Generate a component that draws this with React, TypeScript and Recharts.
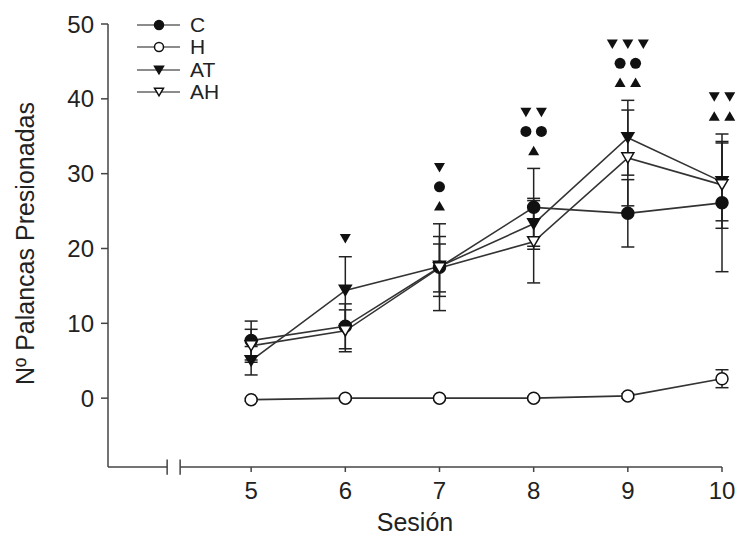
import React from 'react';
import {
  ComposedChart,
  Line,
  Scatter,
  XAxis,
  YAxis,
  ErrorBar,
  ReferenceLine,
  Legend,
  Label,
} from 'recharts';

const sessions = [5, 6, 7, 8, 9, 10];

const cMean = [7.7, 9.6, 17.5, 25.5, 24.7, 26.1];
const cErr = [2.6, 3.0, 5.8, 5.2, 4.5, 9.2];
const hMean = [-0.2, 0.0, 0.0, 0.0, 0.3, 2.6];
const hErr = [0.2, 0.2, 0.2, 0.2, 0.3, 1.2];
const atMean = [5.0, 14.4, 17.6, 23.3, 34.8, 28.9];
const atErr = [1.9, 4.5, 4.0, 3.4, 5.0, 5.2];
const ahMean = [7.0, 9.0, 17.4, 20.9, 32.1, 28.5];
const ahErr = [2.2, 2.8, 3.2, 5.5, 6.4, 5.8];

// significance symbols drawn above each session (how many of each)
const sigDown = [0, 1, 1, 2, 3, 2];
const sigCircle = [0, 0, 1, 2, 2, 0];
const sigUp = [0, 0, 1, 1, 2, 2];

const xTicks = [5, 6, 7, 8, 9, 10];
const yTicks = [0, 10, 20, 30, 40, 50];
const xMin = 3.48;
const yMin = -9.2;
const breakAt = [4.108, 4.246];

const FONT = '"Liberation Sans", Arial, sans-serif';
const INK = '#111';
const LINE = '#333';

const series = [
  { key: 'C', shape: 'circle', fill: INK },
  { key: 'H', shape: 'circle', fill: '#fff' },
  { key: 'AT', shape: 'tri', fill: INK },
  { key: 'AH', shape: 'tri', fill: '#fff' },
];

const data = sessions.map((s, i) => ({
  session: s,
  C: cMean[i],
  C_err: cErr[i],
  H: hMean[i],
  H_err: hErr[i],
  AT: atMean[i],
  AT_err: atErr[i],
  AH: ahMean[i],
  AH_err: ahErr[i],
}));

const sigData = sessions.map((s, i) => ({
  session: s,
  top: Math.max(cMean[i] + cErr[i], atMean[i] + atErr[i], ahMean[i] + ahErr[i], hMean[i] + hErr[i]),
  down: sigDown[i],
  circle: sigCircle[i],
  up: sigUp[i],
}));

const marker = (shape: string, fill: string, cx: number, cy: number, size: number, key?: any) => {
  if (shape === 'circle') {
    return <circle key={key} cx={cx} cy={cy} r={size / 2} fill={fill} stroke={INK} strokeWidth={1.5} />;
  }
  const w = size;
  const h = size * 0.85;
  const pts = `${cx - w / 2},${cy - h / 2} ${cx + w / 2},${cy - h / 2} ${cx},${cy + h / 2}`;
  return <polygon key={key} points={pts} fill={fill} stroke={INK} strokeWidth={1.5} strokeLinejoin="miter" />;
};

const dotFor = (shape: string, fill: string) => (props: any) => {
  const { cx, cy, key } = props;
  if (cx == null || cy == null) return <g key={key} />;
  return marker(shape, fill, cx, cy, 12, key);
};

const SigMarks = (props: any) => {
  const { cx, cy, payload } = props;
  const rows: [string, number][] = [
    ['up', payload.up],
    ['circle', payload.circle],
    ['down', payload.down],
  ];
  const used = rows.filter((r) => r[1] > 0);
  return (
    <g>
      {used.map(([kind, n], r) => {
        const y = cy - 18 - r * 19;
        return Array.from({ length: n }, (_, j) => {
          const x = cx + (j - (n - 1) / 2) * 15.5;
          const k = `${kind}-${j}`;
          if (kind === 'circle') return <circle key={k} cx={x} cy={y} r={5.5} fill={INK} />;
          const w = 11;
          const h = 9.5;
          const pts =
            kind === 'down'
              ? `${x - w / 2},${y - h / 2} ${x + w / 2},${y - h / 2} ${x},${y + h / 2}`
              : `${x - w / 2},${y + h / 2} ${x + w / 2},${y + h / 2} ${x},${y - h / 2}`;
          return <polygon key={k} points={pts} fill={INK} />;
        });
      })}
    </g>
  );
};

const LegendBox = () => (
  <div style={{ fontFamily: FONT, fontSize: 21, color: '#222' }}>
    {series.map((s) => (
      <div key={s.key} style={{ display: 'flex', alignItems: 'center', height: 22.3 }}>
        <svg width={53} height={22} style={{ display: 'block' }}>
          <line x1={0} x2={43} y1={11} y2={11} stroke="#666" strokeWidth={1.3} />
          {marker(s.shape, s.fill, 22, 11, 9)}
        </svg>
        <span style={{ lineHeight: '22px' }}>{s.key}</span>
      </div>
    ))}
  </div>
);

const YTitle = (props: any) => {
  const vb = props.viewBox || { x: 0, y: 0, width: 0, height: 0 };
  const x = vb.x + 25;
  const y = vb.y + vb.height / 2 - 2;
  return (
    <text
      x={x}
      y={y}
      transform={`rotate(-90, ${x}, ${y})`}
      textAnchor="middle"
      dominantBaseline="central"
      fontFamily={FONT}
      fontSize={25}
      fill="#222"
    >
      Nº Palancas Presionadas
    </text>
  );
};

export default function App() {
  return (
    <div style={{ position: 'absolute', left: 0, top: 0, background: '#fff' }}>
      <ComposedChart
        width={740}
        height={537}
        data={data}
        margin={{ top: 24, right: 18, bottom: 0, left: 0 }}
      >
        <XAxis
          dataKey="session"
          type="number"
          domain={[xMin, 10]}
          ticks={xTicks}
          axisLine={false}
          tickLine={{ stroke: '#444', strokeWidth: 1.5 }}
          tickSize={5}
          tickMargin={10}
          height={70}
          tick={{ fontSize: 24, fill: '#222', fontFamily: FONT }}
        >
          <Label
            value="Sesión"
            position="insideBottom"
            offset={6}
            style={{ fontSize: 25, fill: '#222', fontFamily: FONT }}
          />
        </XAxis>
        <YAxis
          type="number"
          domain={[yMin, 50]}
          ticks={yTicks}
          width={108}
          axisLine={{ stroke: '#444', strokeWidth: 1.5 }}
          tickLine={{ stroke: '#444', strokeWidth: 1.5 }}
          tickSize={7}
          tickMargin={7}
          tick={{ fontSize: 24, fill: '#222', fontFamily: FONT }}
        >
          <Label content={<YTitle />} />
        </YAxis>

        {/* broken x axis */}
        <ReferenceLine
          segment={[{ x: xMin, y: yMin }, { x: breakAt[0], y: yMin }]}
          stroke="#444"
          strokeWidth={1.5}
          ifOverflow="visible"
        />
        <ReferenceLine
          segment={[{ x: breakAt[1], y: yMin }, { x: 10, y: yMin }]}
          stroke="#444"
          strokeWidth={1.5}
          ifOverflow="visible"
        />
        {breakAt.map((b) => (
          <ReferenceLine
            key={b}
            segment={[{ x: b, y: yMin + 1 }, { x: b, y: yMin - 1.05 }]}
            stroke="#444"
            strokeWidth={1.5}
            ifOverflow="visible"
          />
        ))}

        {series.map((s) => (
          <Line
            key={s.key}
            dataKey={s.key}
            stroke={LINE}
            strokeWidth={1.6}
            isAnimationActive={false}
            dot={dotFor(s.shape, s.fill)}
            activeDot={false}
          >
            <ErrorBar dataKey={`${s.key}_err`} width={6.5} stroke="#222" strokeWidth={1.5} direction="y" />
          </Line>
        ))}

        <Scatter data={sigData} dataKey="top" isAnimationActive={false} shape={<SigMarks />} legendType="none" />

        <Legend
          content={<LegendBox />}
          layout="vertical"
          align="center"
          verticalAlign="middle"
          wrapperStyle={{ left: 137, top: 14, width: 'auto' }}
        />
      </ComposedChart>
    </div>
  );
}
